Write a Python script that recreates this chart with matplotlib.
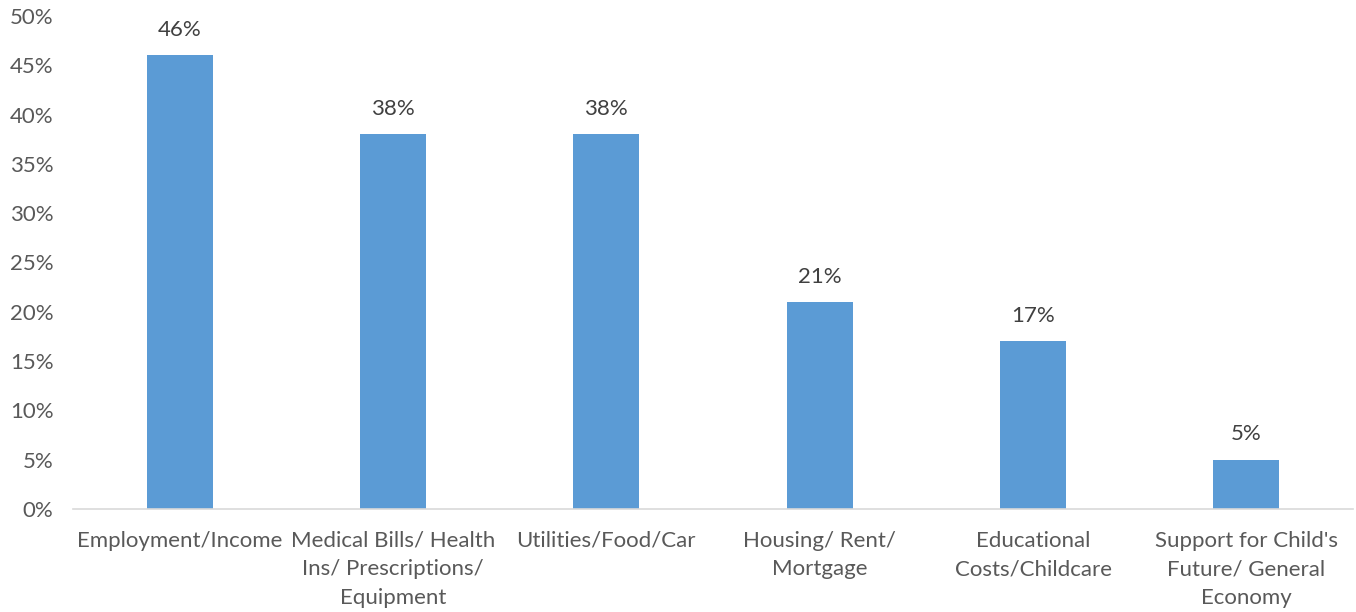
import matplotlib
matplotlib.use("Agg")
import matplotlib.pyplot as plt
from matplotlib.ticker import FuncFormatter

categories = [
    "Employment/Income",
    "Medical Bills/ Health\nIns/ Prescriptions/\nEquipment",
    "Utilities/Food/Car",
    "Housing/ Rent/\nMortgage",
    "Educational\nCosts/Childcare",
    "Support for Child's\nFuture/ General\nEconomy",
]
values = [46, 38, 38, 21, 17, 5]
yticks = [0, 5, 10, 15, 20, 25, 30, 35, 40, 45, 50]

plt.rcParams["font.family"] = ["Lato", "DejaVu Sans"]
text_color = "#595959"
fs = 16

fig = plt.figure(figsize=(13.56, 6.12), dpi=100)
ax = fig.add_axes([73 / 1356, 1 - 509 / 612, (1353 - 73) / 1356, (509 - 16) / 612])

x = list(range(len(categories)))
bars = ax.bar(x, values, width=0.31, color="#5B9BD5", zorder=2)
for rect, v in zip(bars, values):
    ax.annotate(f"{v}%", (rect.get_x() + rect.get_width() / 2, v),
                xytext=(0, 11), textcoords="offset points",
                ha="center", va="bottom", fontsize=fs, color="#404040")

ax.set_xlim(-0.5, len(categories) - 0.5)
ax.set_ylim(0, 50)
ax.set_yticks(yticks)
ax.yaxis.set_major_formatter(FuncFormatter(lambda v, p: f"{int(v)}%"))
ax.set_xticks(x)
ax.set_xticklabels(categories, fontsize=fs, color=text_color, linespacing=1.55)
for lab in ax.get_yticklabels():
    lab.set_fontsize(fs)
    lab.set_color(text_color)
ax.tick_params(axis="both", length=0)
ax.tick_params(axis="x", pad=15.5)
ax.tick_params(axis="y", pad=14)

for s in ["top", "right", "left"]:
    ax.spines[s].set_visible(False)
ax.spines["bottom"].set_color("#D9D9D9")
ax.spines["bottom"].set_linewidth(1.2)

fig.savefig("out.png", dpi=100, facecolor="white")
